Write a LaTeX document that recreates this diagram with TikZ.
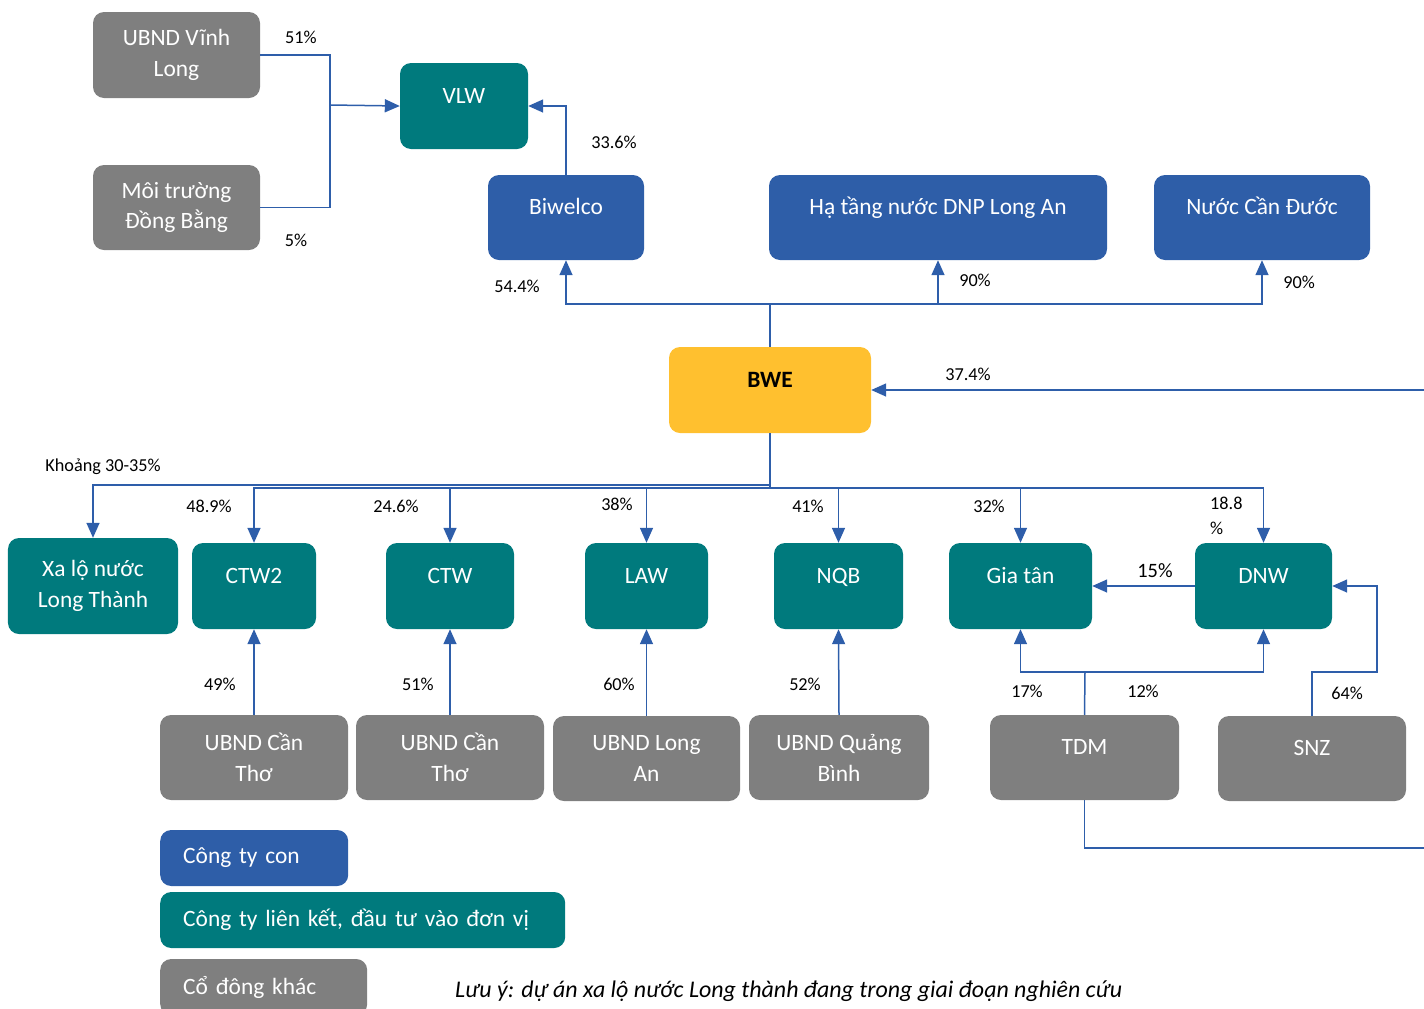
\documentclass[tikz,border=0pt]{standalone}
\usepackage{fontspec}
\setmainfont{Carlito}
\usetikzlibrary{arrows.meta}

\definecolor{boxgrey}{RGB}{127,127,127}
\definecolor{boxblue}{RGB}{46,94,168}
\definecolor{boxteal}{RGB}{0,122,125}
\definecolor{bweyellow}{RGB}{255,192,47}
\definecolor{linkblue}{RGB}{46,94,170}

\newcommand{\boxfont}{\fontsize{23.5}{31}\selectfont}
\newcommand{\pctfont}{\fontsize{18.3}{25}\selectfont}

\tikzset{
  box/.style={rectangle, rounded corners=11bp, text=white, font=\boxfont,
    align=center, inner sep=0pt},
  grey/.style={box, fill=boxgrey},
  sub/.style={box, fill=boxblue},
  assoc/.style={box, fill=boxteal},
  oneline/.style={text height=16bp, text depth=22bp},
  legendbox/.style={box, anchor=west, align=left, inner xsep=23bp, minimum height=56bp},
  link/.style={draw=linkblue, line width=1.5bp},
  own/.style={link, -{Triangle[width=13bp,length=15bp]}},
  pct/.style={font=\pctfont, text=black, inner sep=0pt},
}

\begin{document}
\begin{tikzpicture}[x=1bp, y=-1bp]
	\useasboundingbox (0,0) rectangle (1424,1008);

	% top group
	\node [grey, minimum width=167bp, minimum height=86bp] (vinhlong) at (176.5,55) {UBND Vĩnh\\Long};
	\node [grey, minimum width=167bp, minimum height=85bp] (dongbang) at (176.5,207.5) {Môi trường\\Đồng Bằng};
	\node [assoc, oneline, minimum width=128bp, minimum height=86bp] (vlw) at (464,106) {VLW};
	\node [sub, oneline, minimum width=156bp, minimum height=85bp] (biwelco) at (566,217.5) {Biwelco};
	\node [sub, oneline, minimum width=338bp, minimum height=85bp] (hatang) at (938,217.5) {Hạ tầng nước DNP Long An};
	\node [sub, oneline, minimum width=216bp, minimum height=85bp] (canduoc) at (1262,217.5) {Nước Cần Đước};

	\node [box, oneline, fill=bweyellow, text=black, font=\boxfont\bfseries, minimum width=202bp, minimum height=86bp] (bwe) at (770,390) {BWE};

	% second row
	\node [assoc, minimum width=170bp, minimum height=96bp] (xalo) at (93,586) {Xa lộ nước\\Long Thành};
	\node [assoc, oneline, minimum width=124bp, minimum height=86bp] (ctw2) at (254,586) {CTW2};
	\node [assoc, oneline, minimum width=128bp, minimum height=86bp] (ctw) at (450,586) {CTW};
	\node [assoc, oneline, minimum width=123bp, minimum height=86bp] (law) at (646.5,586) {LAW};
	\node [assoc, oneline, minimum width=129bp, minimum height=86bp] (nqb) at (838.5,586) {NQB};
	\node [assoc, oneline, minimum width=143bp, minimum height=86bp] (giatan) at (1020.5,586) {Gia tân};
	\node [assoc, oneline, minimum width=137bp, minimum height=86bp] (dnw) at (1263.5,586) {DNW};

	% third row
	\node [grey, minimum width=188bp, minimum height=85bp] (cantho1) at (254,757.5) {UBND Cần\\Thơ};
	\node [grey, minimum width=188bp, minimum height=85bp] (cantho2) at (450,757.5) {UBND Cần\\Thơ};
	\node [grey, minimum width=187bp, minimum height=85bp] (longan) at (646.5,758.5) {UBND Long\\An};
	\node [grey, minimum width=180bp, minimum height=85bp] (quangbinh) at (839,757.5) {UBND Quảng\\Bình};
	\node [grey, oneline, minimum width=189bp, minimum height=85bp] (tdm) at (1084.5,757.5) {TDM};
	\node [grey, oneline, minimum width=188bp, minimum height=85bp] (snz) at (1312,758.5) {SNZ};

	% legend
	\node [legendbox, fill=boxblue, text width=142bp] (legsub) at (160,858) {Công ty con};
	\node [legendbox, fill=boxteal, text width=359bp] (legassoc) at (160,920) {Công ty liên kết, đầu tư vào đơn vị};
	\node [legendbox, fill=boxgrey, text width=161bp] (legother) at (160,987) {Cổ đông khác};
	\node [font=\fontsize{24}{28}\selectfont\itshape, inner sep=0pt, anchor=west] (note) at (455,991)
		{Lưu ý: dự án xa lộ nước Long thành đang trong giai đoạn nghiên cứu};

	% connectors
	\coordinate (vjoin) at (330,105);
	\draw [link] (vinhlong.east) -| (vjoin);
	\draw [link] (dongbang.east) -| (vjoin);
	\draw [own] (vjoin) -- (vlw.west);
	\draw [own] (biwelco.north) |- (vlw.east);

	\coordinate (topbus) at (770,304);
	\draw [link] (bwe.north) -- (topbus);
	\draw [own] (topbus) -| (biwelco.south);
	\draw [own] (topbus) -| (hatang.south);
	\draw [own] (topbus) -| (canduoc.south);

	\coordinate (busA) at (770,485);
	\coordinate (busB) at (770,488);
	\draw [link] (bwe.south) -- (busB);
	\draw [own] (busA) -| (xalo.north);
	\draw [own] (busB) -| (ctw2.north);
	\draw [own] (busB) -| (ctw.north);
	\draw [own] (busB) -| (law.north);
	\draw [own] (busB) -| (nqb.north);
	\draw [own] (busB) -| (giatan.north);
	\draw [own] (busB) -| (dnw.north);

	\draw [own] (cantho1.north) -- (ctw2.south);
	\draw [own] (cantho2.north) -- (ctw.south);
	\draw [own] (longan.north) -- (law.south);
	\draw [own] (quangbinh.north) -- (nqb.south);

	\draw [own] (dnw.west) -- (giatan.east);
	\coordinate (snzbend) at (1377,672);
	\draw [own] (snz.north) |- (snzbend) |- (dnw.east);

	\coordinate (tdmbus) at (1085,672);
	\draw [link] (tdm.north) -- (tdmbus);
	\draw [own] (tdmbus) -| (giatan.south);
	\draw [own] (tdmbus) -| (dnw.south);

	% TDM -> BWE, routed past the right edge
	\coordinate (offright) at (1440,848);
	\draw [own] (tdm.south) |- (offright) |- (bwe.east);

	% percentages
	\node [pct] (p51) at (301,37) {51\%};
	\node [pct] (p5) at (296,240) {5\%};
	\node [pct] (p336) at (614,142) {33.6\%};
	\node [pct] (p544) at (517,286) {54.4\%};
	\node [pct] (p90a) at (975,280) {90\%};
	\node [pct] (p90b) at (1299,282) {90\%};
	\node [pct] (p374) at (968,374) {37.4\%};
	\node [pct] (pxalo) at (103,467) {Khoảng 30-35\%};
	\node [pct] (p489) at (209,506) {48.9\%};
	\node [pct] (p246) at (396,506) {24.6\%};
	\node [pct] (p38) at (617,504) {38\%};
	\node [pct] (p41) at (808,506) {41\%};
	\node [pct] (p32) at (989,506) {32\%};
	\node [pct, align=left, anchor=north west] (p188) at (1210,497) {18.8\\\%};
	\node [pct, font=\fontsize{20.5}{25}\selectfont] (p15) at (1155,571) {15\%};
	\node [pct] (p49) at (220,684) {49\%};
	\node [pct] (p51b) at (418,684) {51\%};
	\node [pct] (p60) at (619,684) {60\%};
	\node [pct] (p52) at (805,684) {52\%};
	\node [pct] (p17) at (1027,691) {17\%};
	\node [pct] (p12) at (1143,691) {12\%};
	\node [pct] (p64) at (1347,693) {64\%};
\end{tikzpicture}
\end{document}
